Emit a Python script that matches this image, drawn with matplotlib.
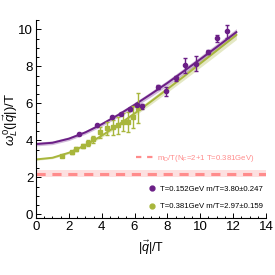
import numpy as np
import matplotlib
matplotlib.use('Agg')
import matplotlib.pyplot as plt
from matplotlib.lines import Line2D

plt.rcParams['font.family'] = ['Liberation Sans', 'DejaVu Sans']
plt.rcParams['mathtext.fontset'] = 'custom'
plt.rcParams['mathtext.rm'] = 'Liberation Sans'
plt.rcParams['mathtext.it'] = 'Liberation Sans:italic'

# T = 0.152 GeV points
q_lo = [2.6, 3.7, 4.6, 5.2, 5.7, 6.15, 6.45, 7.4, 7.9, 8.5, 9.1, 9.75, 10.5, 11.0, 11.6]
w_lo = [4.33, 4.82, 5.25, 5.41, 5.68, 5.9, 5.84, 6.87, 6.65, 7.35, 8.06, 8.15, 8.76, 9.51, 9.89]
e_lo = [0.05, 0.05, 0.06, 0.06, 0.08, 0.1, 0.15, 0.12, 0.25, 0.12, 0.4, 0.4, 0.12, 0.2, 0.35]

# T = 0.381 GeV points
q_hi = [1.58, 2.19, 2.43, 2.86, 3.16, 3.47, 3.9, 4.32, 4.69, 5.0, 5.3, 5.6, 5.9, 6.2]
w_hi = [3.15, 3.36, 3.52, 3.69, 3.85, 4.06, 4.44, 4.66, 4.71, 4.82, 4.98, 4.98, 5.25, 5.74]
e_hi = [0.05, 0.08, 0.1, 0.12, 0.15, 0.2, 0.3, 0.35, 0.4, 0.45, 0.5, 0.55, 0.6, 0.8]

# fit curves
q_fit = [0, 1, 2, 3, 4, 5, 6, 7, 8, 9, 10, 11, 12.2]
fit_lo = [3.80, 3.87, 4.09, 4.43, 4.87, 5.37, 5.92, 6.5, 7.1, 7.74, 8.38, 9.04, 9.85]
band_lo = [0.1, 0.1, 0.1, 0.1, 0.11, 0.12, 0.13, 0.14, 0.15, 0.16, 0.17, 0.18, 0.19]
fit_hi = [2.97, 3.06, 3.33, 3.74, 4.25, 4.83, 5.45, 6.1, 6.77, 7.45, 8.15, 8.85, 9.7]
band_hi = [0.05, 0.05, 0.06, 0.07, 0.09, 0.11, 0.13, 0.15, 0.17, 0.19, 0.21, 0.23, 0.25]

# Debye mass line
mD = 2.2
mD_err = 0.2

purple = '#6b1f86'
green = '#a8b63c'
pink = '#ff8c8c'

fig = plt.figure(figsize=(2.75, 2.75), dpi=100)
ax = fig.add_axes([0.131, 0.207, 0.836, 0.72])

ax.axhspan(mD - mD_err, mD + mD_err, color='#fde0e0', lw=0)
ax.axhline(mD, color=pink, lw=2.2, dashes=(3, 2.2))

qf = np.array(q_fit)
flo, blo = np.array(fit_lo), np.array(band_lo)
fhi, bhi = np.array(fit_hi), np.array(band_hi)
ax.fill_between(qf, fhi - bhi, fhi + bhi, color=green, alpha=0.3, lw=0)
ax.fill_between(qf, flo - blo, flo + blo, color=purple, alpha=0.3, lw=0)
ax.plot(qf, fhi, color=green, lw=1.4)
ax.plot(qf, flo, color=purple, lw=1.4)

ax.errorbar(q_hi, w_hi, yerr=e_hi, fmt='s', color=green, ms=3.0, capsize=1.6,
            elinewidth=1.0, capthick=1.0)
ax.errorbar(q_lo, w_lo, yerr=e_lo, fmt='o', color=purple, ms=3.0, capsize=1.6,
            elinewidth=1.0, capthick=1.0)

ax.set_xlim(0, 14)
ax.set_ylim(-0.2, 10.5)
ax.set_xticks(range(0, 15, 2))
ax.set_yticks(range(0, 11, 2))
ax.set_xticks(np.arange(0, 14.01, 0.5), minor=True)
ax.set_yticks(np.arange(0, 10.51, 0.5), minor=True)
ax.tick_params(which='both', direction='in', labelsize=9.5, width=0.7, pad=2)
ax.tick_params(which='major', length=3.5)
ax.tick_params(which='minor', length=1.8)
for s in ['top', 'right']:
    ax.spines[s].set_visible(False)
for s in ['left', 'bottom']:
    ax.spines[s].set_linewidth(0.8)

ax.set_xlabel(r'$|\vec{q}|$/T', fontsize=9, labelpad=4)
ax.set_ylabel(r'$\omega^0_L(|\vec{q}|)$/T', fontsize=9.5)
ax.yaxis.set_label_coords(-0.07, 0.5)

h1 = [Line2D([], [], color=pink, lw=1.6, dashes=(2.4, 2.6))]
leg1 = ax.legend(h1, [r'm$_\mathregular{D}$/T(N$_\mathregular{F}$=2+1 T=0.381GeV)'],
                 loc='center left', bbox_to_anchor=(0.42, 0.30), frameon=False,
                 fontsize=5.6, handlelength=2.2, handletextpad=0.5, borderpad=0)
for t in leg1.get_texts():
    t.set_color(pink)
ax.add_artist(leg1)

h2 = [Line2D([], [], ls='none', marker='o', color=purple, ms=3.5),
      Line2D([], [], ls='none', marker='o', color=green, ms=3.5)]
ax.legend(h2, ['T=0.152GeV m/T=3.80\u00b10.247', 'T=0.381GeV m/T=2.97\u00b10.159'],
          loc='upper left', bbox_to_anchor=(0.475, 0.185), frameon=False,
          fontsize=5.6, handlelength=0.8, handletextpad=0.6, borderpad=0,
          labelspacing=1.3)

fig.savefig('out.png', dpi=100)
